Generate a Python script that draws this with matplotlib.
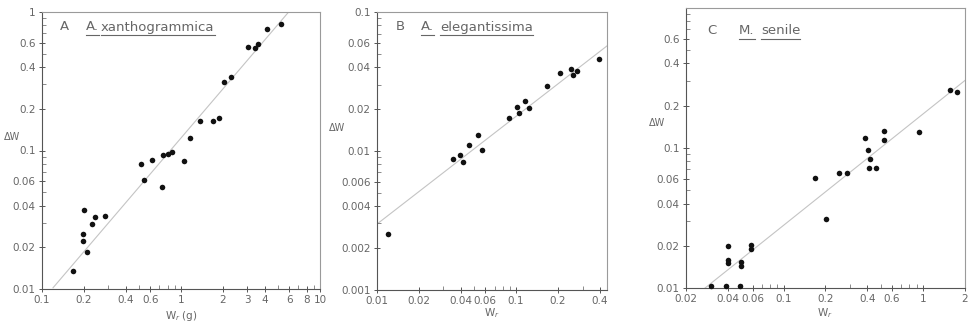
import numpy as np
import matplotlib
matplotlib.use("Agg")
import matplotlib.pyplot as plt
from matplotlib.lines import Line2D
from matplotlib.ticker import FixedLocator, FixedFormatter, LogLocator, NullFormatter

W, H = 972, 326

# panel A  (A. xanthogrammica)
a_wr = [5.24, 4.16, 3.05, 3.41, 3.56, 2.28, 2.03, 1.38, 1.69, 1.88, 1.17, 1.05,
        0.857, 0.811, 0.738, 0.622, 0.515, 0.544, 0.729,
        0.201, 0.241, 0.285, 0.229, 0.197, 0.198, 0.212, 0.168]
a_dw = [0.815, 0.753, 0.561, 0.552, 0.585, 0.340, 0.314, 0.163, 0.163, 0.171, 0.124, 0.0836,
        0.0971, 0.0944, 0.0922, 0.0849, 0.080, 0.0612, 0.0544,
        0.0372, 0.033, 0.0336, 0.0296, 0.0249, 0.0223, 0.0185, 0.0136]
a_fit_wr = [0.12, 6.1]
a_fit_dw = [0.0102, 1.03]

# panel B  (A. elegantissima)
b_wr = [0.395, 0.2075, 0.248, 0.258, 0.276, 0.167, 0.1156, 0.1016, 0.124, 0.1057,
        0.0885, 0.0536, 0.0459, 0.0569, 0.0397, 0.0352, 0.0414, 0.01205]
b_dw = [0.0456, 0.0366, 0.0391, 0.0352, 0.0378, 0.0294, 0.0229, 0.0208, 0.0202, 0.0186,
        0.0171, 0.0130, 0.01096, 0.01014, 0.00937, 0.00873, 0.00828, 0.00252]
b_fit_wr = [0.01, 0.45]
b_fit_dw = [0.00297, 0.057]

# panel C  (M. senile)
c_wr = [1.56, 1.76, 0.94, 0.528, 0.528, 0.385, 0.406, 0.415, 0.408, 0.461, 0.250, 0.284,
        0.169, 0.2005, 0.0588, 0.0588, 0.040, 0.040, 0.040, 0.0495, 0.0495,
        0.0301, 0.0387, 0.0488]
c_dw = [0.2594, 0.251, 0.129, 0.132, 0.114, 0.117, 0.0959, 0.0832, 0.0718, 0.0718, 0.0663, 0.0658,
        0.061, 0.0308, 0.0202, 0.0190, 0.0199, 0.0159, 0.0151, 0.0152, 0.01426,
        0.0103, 0.0103, 0.0103]
c_fit_wr = [0.0274, 2.0]
c_fit_dw = [0.0100, 0.302]

a_xticks = [0.1, 0.2, 0.4, 0.6, 1, 2, 3, 4, 6, 8, 10]
a_xlabels = ["0.1", "0.2", "0.4", "0.6", "1", "2", "3", "4", "6", "8", "10"]
a_yticks = [0.01, 0.02, 0.04, 0.06, 0.1, 0.2, 0.4, 0.6, 1]
a_ylabels = ["0.01", "0.02", "0.04", "0.06", "0.1", "0.2", "0.4", "0.6", "1"]

b_xticks = [0.01, 0.02, 0.04, 0.06, 0.1, 0.2, 0.4]
b_xlabels = ["0.01", "0.02", "0.04", "0.06", "0.1", "0.2", "0.4"]
b_yticks = [0.001, 0.002, 0.004, 0.006, 0.01, 0.02, 0.04, 0.06, 0.1]
b_ylabels = ["0.001", "0.002", "0.004", "0.006", "0.01", "0.02", "0.04", "0.06", "0.1"]

c_xticks = [0.02, 0.04, 0.06, 0.1, 0.2, 0.4, 0.6, 1, 2]
c_xlabels = ["0.02", "0.04", "0.06", "0.1", "0.2", "0.4", "0.6", "1", "2"]
c_yticks = [0.01, 0.02, 0.04, 0.06, 0.1, 0.2, 0.4, 0.6]
c_ylabels = ["0.01", "0.02", "0.04", "0.06", "0.1", "0.2", "0.4", "0.6"]

TXT = "#666666"
AX = "#555555"

fig = plt.figure(figsize=(W / 100, H / 100), dpi=100)


def rect(left, top, right, bottom):
    return [left / W, 1 - bottom / H, (right - left) / W, (bottom - top) / H]


def panel(r, xlim, ylim, xt, xl, yt, yl, wr, dw, fx, fy):
    ax = fig.add_axes(r)
    ax.set_xscale("log")
    ax.set_yscale("log")
    ax.plot(fx, fy, color="#c4c4c4", lw=0.8, zorder=1)
    ax.scatter(wr, dw, s=16, color="#111111", linewidths=0, zorder=3, clip_on=False)
    ax.set_xlim(xlim)
    ax.set_ylim(ylim)
    for axis, ticks, labels in ((ax.xaxis, xt, xl), (ax.yaxis, yt, yl)):
        axis.set_major_locator(FixedLocator(ticks))
        axis.set_major_formatter(FixedFormatter(labels))
        axis.set_minor_locator(LogLocator(base=10, subs=np.arange(2, 10)))
        axis.set_minor_formatter(NullFormatter())
    for sp in ax.spines.values():
        sp.set_color(AX)
        sp.set_linewidth(0.8)
    for s in ("top", "right"):
        ax.spines[s].set_color("#9a9a9a")
    ax.tick_params(which="major", direction="inout", length=5, width=0.7, color=AX,
                   labelsize=7.5, labelcolor=TXT, pad=2)
    ax.tick_params(which="minor", direction="in", length=3, width=0.6, color="#777777")
    return ax


panel(rect(42, 12, 320, 289), (0.1, 10), (0.01, 1), a_xticks, a_xlabels, a_yticks, a_ylabels,
      a_wr, a_dw, a_fit_wr, a_fit_dw)
panel(rect(377, 12, 607, 289.7), (0.01, 0.45), (0.001, 0.1), b_xticks, b_xlabels, b_yticks, b_ylabels,
      b_wr, b_dw, b_fit_wr, b_fit_dw)
panel(rect(686, 7.5, 965, 288), (0.02, 2), (0.01, 1), c_xticks, c_xlabels, c_yticks, c_ylabels,
      c_wr, c_dw, c_fit_wr, c_fit_dw)


def ftext(x, y, s, **kw):
    return fig.text(x / W, 1 - y / H, s, color=TXT, va="center", **kw)


# axis titles
for x, y in ((12, 137), (337, 128), (657, 123)):
    ftext(x, y, "ΔW", fontsize=7, ha="center")
ftext(181, 316, "W$_r$ (g)", fontsize=7.5, ha="center")
ftext(492, 313, "W$_r$", fontsize=7.5, ha="center")
ftext(825, 313, "W$_r$", fontsize=7.5, ha="center")

# panel headings, species names underlined
underline = []
heads = [(60, 27, "A", False), (86, 27, "A.", True), (101, 27, "xanthogrammica", True),
         (396, 27, "B", False), (421, 27, "A.", True), (440, 27, "elegantissima", True),
         (707, 31, "C", False), (739, 31, "M.", True), (761, 31, "senile", True)]
for x, y, s, u in heads:
    t = ftext(x, y, s, fontsize=9.5, ha="left")
    if u:
        underline.append(t)

fig.canvas.draw()
for t in underline:
    bb = t.get_window_extent()
    fig.add_artist(Line2D([bb.x0 / W, bb.x1 / W], [(bb.y0 - 1) / H] * 2,
                          transform=fig.transFigure, color=TXT, lw=0.8))

fig.savefig("out.png", dpi=100, facecolor="white")
